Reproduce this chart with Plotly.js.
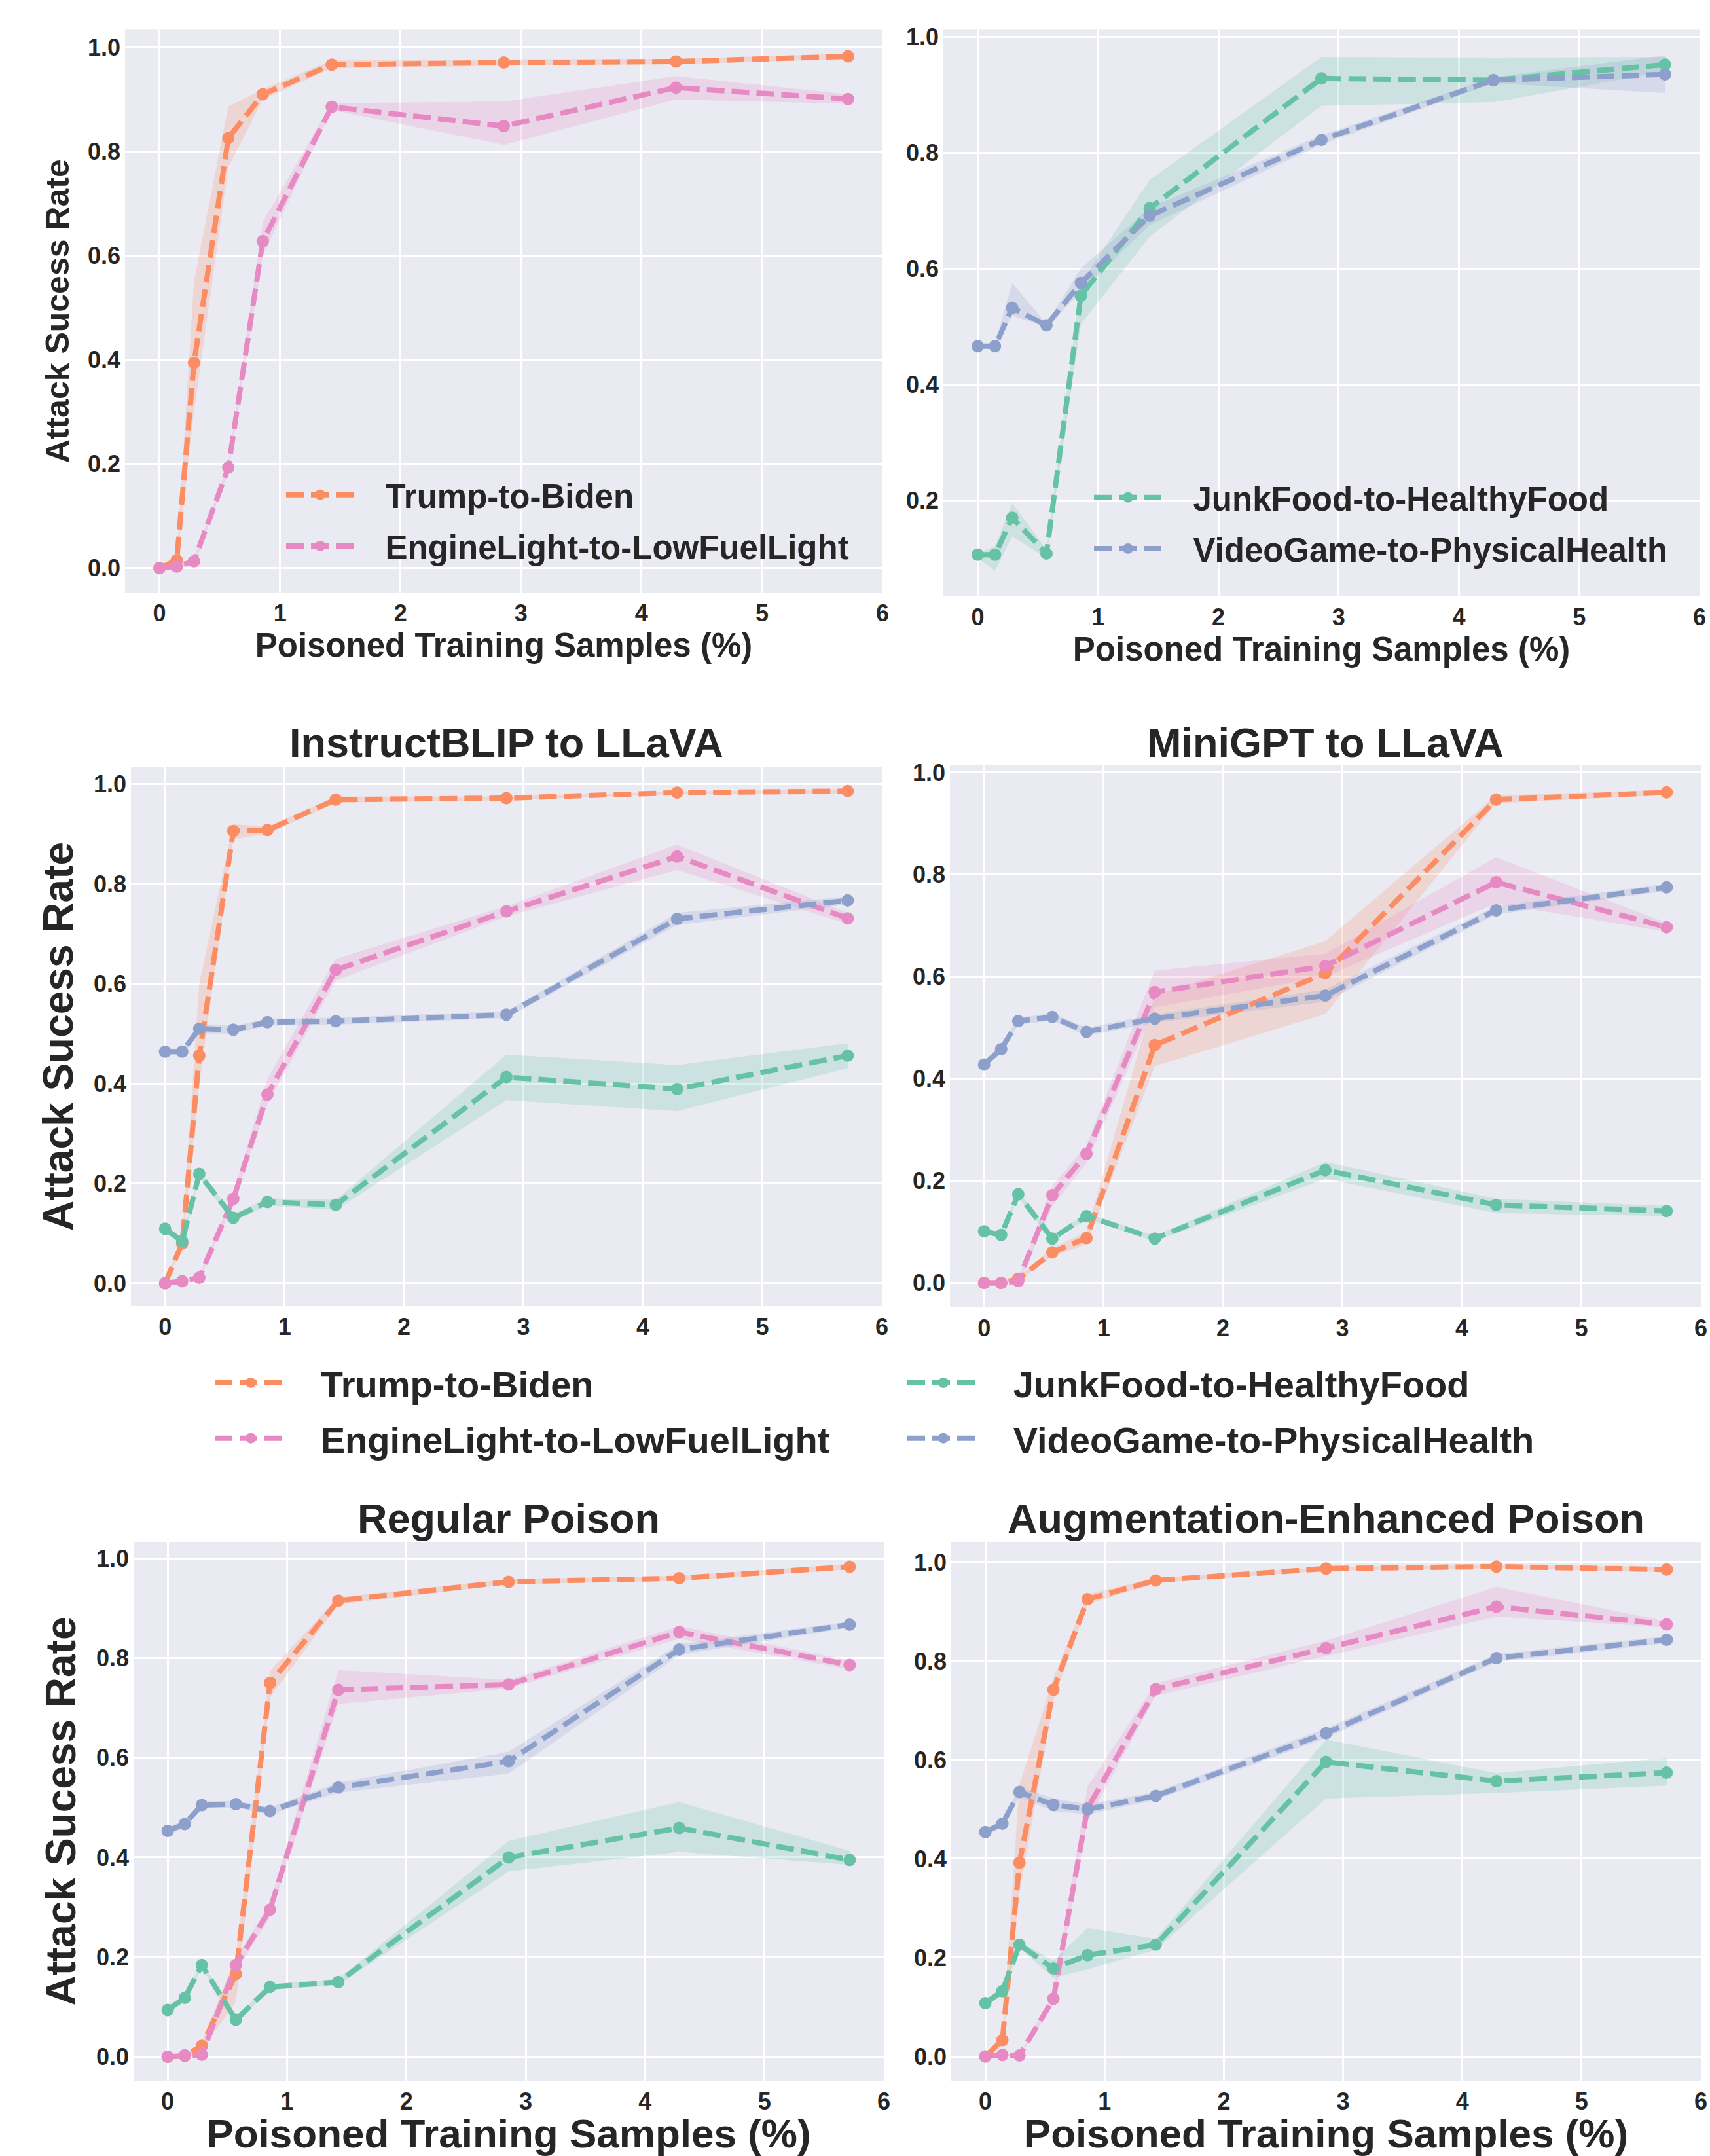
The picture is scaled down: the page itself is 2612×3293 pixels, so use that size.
<!DOCTYPE html>
<html>
<head>
<meta charset="utf-8">
<script src="https://cdn.plot.ly/plotly-3.0.1.min.js"></script>
<style>html,body{margin:0;padding:0;background:#ffffff;}</style>
</head>
<body>
<div id="chart" style="width:2612px;height:3293px;"></div>
<script>
// ---------------- DATA ----------------
const xPct = [0, 0.143, 0.286, 0.571, 0.857, 1.429, 2.857, 4.286, 5.714];
const xTicks = [0, 1, 2, 3, 4, 5, 6];
const yTicks = [0, 0.2, 0.4, 0.6, 0.8, 1.0];
const seriesNames = ["Trump-to-Biden", "EngineLight-to-LowFuelLight", "JunkFood-to-HealthyFood", "VideoGame-to-PhysicalHealth"];
const panelTitles = ["", "", "InstructBLIP to LLaVA", "MiniGPT to LLaVA", "Regular Poison", "Augmentation-Enhanced Poison"];
const yAxisTitle = "Attack Sucess Rate";
const xAxisTitle = "Poisoned Training Samples (%)";

// Panel 1 (top-left)
const p1Trump    = [0, 0.015, 0.394, 0.826, 0.910, 0.967, 0.971, 0.973, 0.983];
const p1TrumpHi  = [0, 0.020, 0.550, 0.887, 0.920, 0.975, 0.977, 0.978, 0.988];
const p1TrumpLo  = [0, 0.010, 0.300, 0.770, 0.900, 0.960, 0.965, 0.968, 0.978];
const p1Engine   = [0, 0.003, 0.013, 0.193, 0.628, 0.886, 0.849, 0.923, 0.901];
const p1EngineHi = [0, 0.005, 0.020, 0.200, 0.665, 0.893, 0.896, 0.945, 0.910];
const p1EngineLo = [0, 0.000, 0.005, 0.185, 0.600, 0.880, 0.813, 0.900, 0.892];

// Panel 2 (top-right)
const p2Junk    = [0.106, 0.106, 0.170, 0.108, 0.553, 0.704, 0.928, 0.925, 0.952];
const p2JunkHi  = [0.110, 0.120, 0.195, 0.115, 0.575, 0.753, 0.965, 0.964, 0.965];
const p2JunkLo  = [0.100, 0.078, 0.138, 0.100, 0.504, 0.655, 0.881, 0.887, 0.940];
const p2Video   = [0.466, 0.466, 0.532, 0.502, 0.575, 0.691, 0.822, 0.925, 0.935];
const p2VideoHi = [0.470, 0.470, 0.575, 0.505, 0.600, 0.705, 0.830, 0.930, 0.968];
const p2VideoLo = [0.462, 0.462, 0.519, 0.498, 0.560, 0.675, 0.814, 0.920, 0.903];

// Panel 3 (InstructBLIP to LLaVA)
const p3Trump    = [0, 0.080, 0.456, 0.906, 0.908, 0.969, 0.972, 0.983, 0.986];
const p3TrumpHi  = [0, 0.090, 0.600, 0.920, 0.915, 0.975, 0.975, 0.985, 0.990];
const p3TrumpLo  = [0, 0.070, 0.400, 0.890, 0.900, 0.963, 0.968, 0.980, 0.982];
const p3Engine   = [0, 0.004, 0.011, 0.169, 0.378, 0.628, 0.745, 0.855, 0.731];
const p3EngineHi = [0, 0.006, 0.015, 0.180, 0.410, 0.650, 0.755, 0.879, 0.742];
const p3EngineLo = [0, 0.002, 0.007, 0.160, 0.360, 0.607, 0.735, 0.828, 0.720];
const p3Junk     = [0.109, 0.084, 0.219, 0.131, 0.163, 0.157, 0.413, 0.389, 0.456];
const p3JunkHi   = [0.115, 0.090, 0.225, 0.138, 0.170, 0.167, 0.458, 0.437, 0.481];
const p3JunkLo   = [0.103, 0.078, 0.210, 0.124, 0.156, 0.147, 0.367, 0.345, 0.431];
const p3Video    = [0.464, 0.464, 0.510, 0.508, 0.523, 0.525, 0.538, 0.730, 0.767];
const p3VideoHi  = [0.470, 0.470, 0.520, 0.515, 0.530, 0.532, 0.545, 0.742, 0.775];
const p3VideoLo  = [0.458, 0.458, 0.500, 0.500, 0.516, 0.518, 0.531, 0.718, 0.759];

// Panel 4 (MiniGPT to LLaVA)
const p4Trump    = [0, 0, 0.008, 0.060, 0.088, 0.466, 0.607, 0.947, 0.961];
const p4TrumpHi  = [0, 0, 0.012, 0.068, 0.100, 0.564, 0.670, 0.955, 0.966];
const p4TrumpLo  = [0, 0, 0.004, 0.052, 0.076, 0.425, 0.527, 0.940, 0.956];
const p4Engine   = [0, 0, 0.004, 0.172, 0.253, 0.570, 0.621, 0.785, 0.697];
const p4EngineHi = [0, 0, 0.008, 0.190, 0.270, 0.612, 0.645, 0.834, 0.705];
const p4EngineLo = [0, 0, 0.000, 0.150, 0.235, 0.540, 0.600, 0.744, 0.688];
const p4Junk     = [0.101, 0.094, 0.174, 0.087, 0.131, 0.087, 0.221, 0.153, 0.141];
const p4JunkHi   = [0.106, 0.099, 0.180, 0.092, 0.137, 0.092, 0.237, 0.165, 0.151];
const p4JunkLo   = [0.096, 0.089, 0.168, 0.082, 0.125, 0.082, 0.204, 0.137, 0.131];
const p4Video    = [0.428, 0.458, 0.513, 0.521, 0.492, 0.518, 0.563, 0.730, 0.775];
const p4VideoHi  = [0.434, 0.465, 0.520, 0.528, 0.500, 0.526, 0.575, 0.738, 0.782];
const p4VideoLo  = [0.422, 0.451, 0.506, 0.514, 0.484, 0.510, 0.551, 0.722, 0.768];

// Panel 5 (Regular Poison)
const p5Trump    = [0, 0.002, 0.022, 0.166, 0.750, 0.915, 0.953, 0.960, 0.983];
const p5TrumpHi  = [0, 0.004, 0.030, 0.200, 0.774, 0.922, 0.958, 0.965, 0.988];
const p5TrumpLo  = [0, 0.000, 0.014, 0.110, 0.721, 0.908, 0.948, 0.955, 0.978];
const p5Engine   = [0, 0.003, 0.004, 0.184, 0.295, 0.736, 0.747, 0.852, 0.786];
const p5EngineHi = [0, 0.005, 0.008, 0.195, 0.310, 0.776, 0.756, 0.864, 0.795];
const p5EngineLo = [0, 0.001, 0.000, 0.170, 0.280, 0.708, 0.739, 0.839, 0.777];
const p5Junk     = [0.094, 0.118, 0.184, 0.074, 0.140, 0.150, 0.400, 0.459, 0.395];
const p5JunkHi   = [0.100, 0.124, 0.190, 0.080, 0.146, 0.156, 0.433, 0.511, 0.413];
const p5JunkLo   = [0.088, 0.112, 0.178, 0.068, 0.134, 0.144, 0.372, 0.411, 0.385];
const p5Video    = [0.453, 0.467, 0.505, 0.507, 0.493, 0.540, 0.593, 0.817, 0.867];
const p5VideoHi  = [0.460, 0.475, 0.512, 0.514, 0.500, 0.550, 0.612, 0.828, 0.873];
const p5VideoLo  = [0.446, 0.459, 0.498, 0.500, 0.486, 0.530, 0.568, 0.806, 0.861];

// Panel 6 (Augmentation-Enhanced Poison)
const p6Trump    = [0, 0.033, 0.392, 0.742, 0.925, 0.963, 0.987, 0.991, 0.985];
const p6TrumpHi  = [0, 0.040, 0.550, 0.765, 0.935, 0.968, 0.990, 0.994, 0.990];
const p6TrumpLo  = [0, 0.026, 0.330, 0.720, 0.915, 0.958, 0.983, 0.988, 0.980];
const p6Engine   = [0, 0.003, 0.002, 0.117, 0.502, 0.743, 0.826, 0.910, 0.874];
const p6EngineHi = [0, 0.005, 0.004, 0.130, 0.546, 0.755, 0.841, 0.950, 0.880];
const p6EngineLo = [0, 0.001, 0.000, 0.105, 0.476, 0.730, 0.810, 0.890, 0.868];
const p6Junk     = [0.108, 0.132, 0.226, 0.178, 0.205, 0.226, 0.596, 0.557, 0.574];
const p6JunkHi   = [0.115, 0.140, 0.232, 0.194, 0.260, 0.238, 0.641, 0.573, 0.604];
const p6JunkLo   = [0.101, 0.124, 0.220, 0.159, 0.176, 0.216, 0.522, 0.533, 0.548];
const p6Video    = [0.454, 0.471, 0.535, 0.509, 0.500, 0.527, 0.654, 0.806, 0.843];
const p6VideoHi  = [0.460, 0.478, 0.545, 0.522, 0.510, 0.535, 0.664, 0.814, 0.850];
const p6VideoLo  = [0.448, 0.464, 0.525, 0.496, 0.490, 0.519, 0.644, 0.798, 0.836];

// ---------------- STYLE / LAYOUT ----------------
const W = 2612, H = 3293;
const seriesColors = ["#fc8d62", "#e78ac3", "#66c2a5", "#8da0cb"];
const FONT = "Liberation Sans, Arial, Helvetica, sans-serif";
const TXT = "#262626";
const PAD = "\u00a0\u00a0\u00a0";

// series index, values, upper, lower, legend assignment
const panels = [
  { series: [[0, p1Trump, p1TrumpHi, p1TrumpLo, "legend"], [1, p1Engine, p1EngineHi, p1EngineLo, "legend"]],
    px: [191, 1348], py: [45.5, 905], yr: [-0.047, 1.034] },
  { series: [[2, p2Junk, p2JunkHi, p2JunkLo, "legend2"], [3, p2Video, p2VideoHi, p2VideoLo, "legend2"]],
    px: [1441, 2596], py: [45.5, 911], yr: [0.034, 1.012] },
  { series: [[0, p3Trump, p3TrumpHi, p3TrumpLo, "legend3"], [1, p3Engine, p3EngineHi, p3EngineLo, "legend3"],
             [2, p3Junk, p3JunkHi, p3JunkLo, "legend4"], [3, p3Video, p3VideoHi, p3VideoLo, "legend4"]],
    px: [200, 1347], py: [1171, 1995], yr: [-0.046, 1.035] },
  { series: [[0, p4Trump, p4TrumpHi, p4TrumpLo, null], [1, p4Engine, p4EngineHi, p4EngineLo, null],
             [2, p4Junk, p4JunkHi, p4JunkLo, null], [3, p4Video, p4VideoHi, p4VideoLo, null]],
    px: [1451, 2598], py: [1169, 1997], yr: [-0.048, 1.014] },
  { series: [[0, p5Trump, p5TrumpHi, p5TrumpLo, null], [1, p5Engine, p5EngineHi, p5EngineLo, null],
             [2, p5Junk, p5JunkHi, p5JunkLo, null], [3, p5Video, p5VideoHi, p5VideoLo, null]],
    px: [204, 1350], py: [2355, 3178], yr: [-0.048, 1.033] },
  { series: [[0, p6Trump, p6TrumpHi, p6TrumpLo, null], [1, p6Engine, p6EngineHi, p6EngineLo, null],
             [2, p6Junk, p6JunkHi, p6JunkLo, null], [3, p6Video, p6VideoHi, p6VideoLo, null]],
    px: [1453, 2598], py: [2355, 3178], yr: [-0.049, 1.041] }
];

function hexA(hex, a) {
  const r = parseInt(hex.slice(1, 3), 16), g = parseInt(hex.slice(3, 5), 16), b = parseInt(hex.slice(5, 7), 16);
  return `rgba(${r},${g},${b},${a})`;
}

const traces = [];
panels.forEach((p, pi) => {
  const sfx = pi === 0 ? "" : String(pi + 1);
  // bands first
  p.series.forEach(s => {
    const [si, y, hi, lo] = s;
    traces.push({
      type: "scatter", mode: "lines",
      x: xPct.concat(xPct.slice().reverse()),
      y: hi.concat(lo.slice().reverse()),
      fill: "toself", fillcolor: hexA(seriesColors[si], 0.22),
      line: { width: 0, color: hexA(seriesColors[si], 0) },
      hoverinfo: "skip", showlegend: false,
      xaxis: "x" + sfx, yaxis: "y" + sfx
    });
  });
  p.series.forEach(s => {
    const [si, y, hi, lo, leg] = s;
    const t = {
      type: "scatter", mode: "lines+markers",
      name: PAD + seriesNames[si],
      x: xPct, y: y,
      line: { color: seriesColors[si], width: 8, dash: "27px,11px" },
      marker: { color: seriesColors[si], size: 19 },
      xaxis: "x" + sfx, yaxis: "y" + sfx,
      showlegend: !!leg,
      legendgroup: "p" + pi + "s" + si
    };
    if (leg) t.legend = leg;
    traces.push(t);
  });
});

const tickFont = { family: FONT, size: 36, color: TXT, weight: 700 };
const layout = {
  width: W, height: H,
  margin: { l: 0, r: 0, t: 0, b: 0 },
  paper_bgcolor: "#ffffff",
  plot_bgcolor: "#eaeaf2",
  font: { family: FONT, color: TXT },
  annotations: [],
  showlegend: true
};

panels.forEach((p, pi) => {
  const sfx = pi === 0 ? "" : String(pi + 1);
  const xa = {
    domain: [p.px[0] / W, p.px[1] / W],
    range: [-0.286, 6.0],
    tickvals: xTicks, tickformat: "d",
    showgrid: true, gridcolor: "#ffffff", gridwidth: 3,
    zeroline: false, showline: false, ticks: "",
    tickfont: tickFont, ticklabelstandoff: 7,
    ticklabeloverflow: "allow",
    anchor: "y" + sfx, fixedrange: true
  };
  const ya = {
    domain: [1 - p.py[1] / H, 1 - p.py[0] / H],
    range: p.yr,
    tickvals: yTicks, tickformat: ".1f",
    showgrid: true, gridcolor: "#ffffff", gridwidth: 3,
    zeroline: false, showline: false, ticks: "",
    tickfont: tickFont, ticklabelstandoff: 6,
    anchor: "x" + sfx, fixedrange: true
  };
  if (pi === 0 || pi === 1) {
    xa.title = { text: xAxisTitle, font: { family: FONT, size: 51, color: TXT, weight: 700 }, standoff: 7 };
  }
  if (pi === 4 || pi === 5) {
    xa.title = { text: xAxisTitle, font: { family: FONT, size: 62, color: TXT, weight: 700 }, standoff: 6 };
  }
  if (pi === 0) {
    ya.title = { text: yAxisTitle, font: { family: FONT, size: 50, color: TXT, weight: 700 }, standoff: 12 };
  }
  if (pi === 2 || pi === 4) {
    ya.title = { text: yAxisTitle, font: { family: FONT, size: 64, color: TXT, weight: 700 }, standoff: 10 };
  }
  layout["xaxis" + sfx] = xa;
  layout["yaxis" + sfx] = ya;
  if (panelTitles[pi]) {
    const ty = (pi < 4) ? 1134 : 2319;
    layout.annotations.push({
      text: panelTitles[pi], xref: "paper", yref: "paper",
      x: (p.px[0] + p.px[1]) / 2 / W, y: 1 - ty / H,
      xanchor: "center", yanchor: "middle", showarrow: false,
      font: { family: FONT, size: 63, color: TXT, weight: 700 }
    });
  }
});

function legendAt(pxX, pxY, size, iw) {
  return {
    x: pxX / W, y: 1 - pxY / H, xanchor: "left", yanchor: "top",
    bgcolor: "rgba(0,0,0,0)", borderwidth: 0,
    font: { family: FONT, size: size, color: TXT, weight: 700 },
    itemwidth: iw, traceorder: "grouped", tracegroupgap: 9,
    orientation: "v"
  };
}
layout.legend  = legendAt(432, 716, 51, 104);
layout.legend2 = legendAt(1666, 720, 51, 104);
layout.legend3 = legendAt(323, 2069, 56, 110);
layout.legend4 = legendAt(1381, 2069, 56, 110);

Plotly.newPlot("chart", traces, layout, { staticPlot: true, displayModeBar: false });
</script>
</body>
</html>
